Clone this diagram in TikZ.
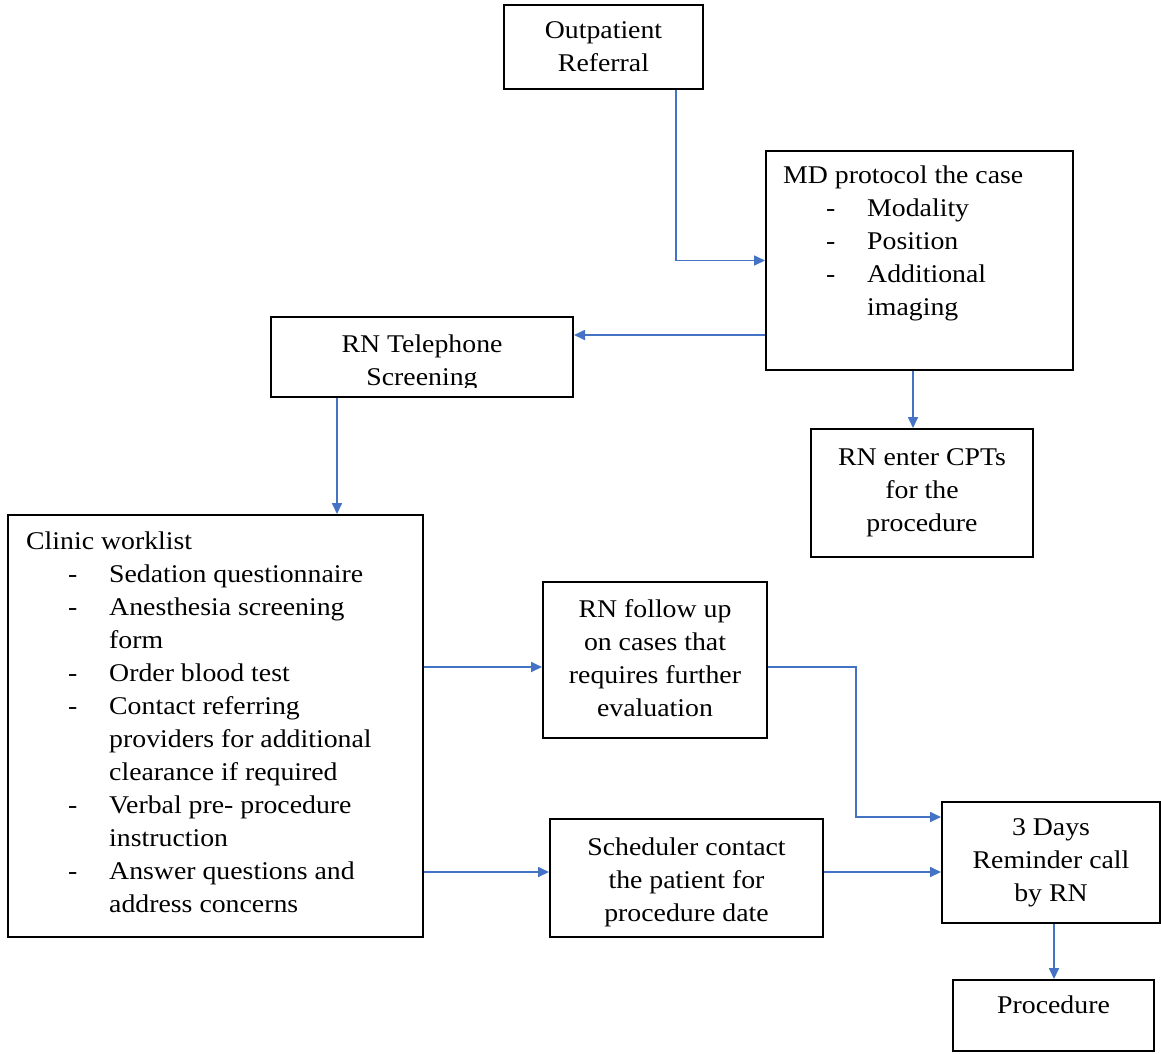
\documentclass[tikz,border=0pt]{standalone}
\usepackage{fontspec}
\setmainfont{Liberation Serif}[FakeStretch=1.09]
\usetikzlibrary{arrows.meta}
\definecolor{arrblue}{HTML}{4472C4}
\begin{document}
\begin{tikzpicture}[x=1pt,y=-1pt,
  box/.style={draw=black, line width=2pt, inner sep=0pt},
  txt/.style={inner sep=0pt, font=\fontsize{25.5}{33}\selectfont, anchor=north, align=center},
  ltxt/.style={inner sep=0pt, font=\fontsize{25.5}{33}\selectfont, anchor=north west, align=left},
  arr/.style={draw=arrblue, line width=1.7pt, -{Triangle[length=11pt,width=10pt]}}]
\useasboundingbox[fill=white] (0,0) rectangle (1161,1053);

% boxes
\node[box, minimum width=199, minimum height=84]  (out)    at (603.5,47) {};
\node[box, minimum width=307, minimum height=219] (md)     at (919.5,260.5) {};
\node[box, minimum width=302, minimum height=80]  (rntel)  at (422,357) {};
\node[box, minimum width=222, minimum height=128] (cpt)    at (922,493) {};
\node[box, minimum width=415, minimum height=422] (clinic) at (215.5,726) {};
\node[box, minimum width=224, minimum height=156] (follow) at (655,660) {};
\node[box, minimum width=273, minimum height=118] (sched)  at (686.5,878) {};
\node[box, minimum width=218, minimum height=121] (days)   at (1051,862.5) {};
\node[box, minimum width=201, minimum height=71]  (proc)   at (1053.5,1015.5) {};

% texts
\node[txt] (outtxt) at (603.5,14.9) {\strut Outpatient\\Referral};
\node[ltxt] (mdtxt) at (783,159.9) {\strut MD protocol the case\\
  \hspace*{43pt}\makebox[41pt][l]{-}Modality\\
  \hspace*{43pt}\makebox[41pt][l]{-}Position\\
  \hspace*{43pt}\makebox[41pt][l]{-}Additional\\
  \hspace*{84pt}imaging};
\begin{scope}
  \clip (271,317) rectangle (573,387);
  \node[txt] (rnteltxt) at (422,328.9) {\strut RN Telephone\\Screening};
\end{scope}
\node[txt] (cpttxt) at (922,441.9) {\strut RN enter CPTs\\for the\\procedure};
\node[ltxt] (clinictxt) at (26,525.9) {\strut Clinic worklist\\
  \hspace*{42pt}\makebox[41pt][l]{-}Sedation questionnaire\\
  \hspace*{42pt}\makebox[41pt][l]{-}Anesthesia screening\\
  \hspace*{83pt}form\\
  \hspace*{42pt}\makebox[41pt][l]{-}Order blood test\\
  \hspace*{42pt}\makebox[41pt][l]{-}Contact referring\\
  \hspace*{83pt}providers for additional\\
  \hspace*{83pt}clearance if required\\
  \hspace*{42pt}\makebox[41pt][l]{-}Verbal pre- procedure\\
  \hspace*{83pt}instruction\\
  \hspace*{42pt}\makebox[41pt][l]{-}Answer questions and\\
  \hspace*{83pt}address concerns};
\node[txt] (followtxt) at (655,593.9) {\strut RN follow up\\on cases that\\requires further\\evaluation};
\node[txt] (schedtxt) at (686.5,831.9) {\strut Scheduler contact\\the patient for\\procedure date};
\node[txt] (daystxt) at (1051,811.9) {\strut 3 Days\\Reminder call\\by RN};
\node[txt] (proctxt) at (1053.5,989.9) {\strut Procedure};

% connectors
\draw[arr] ([xshift=72.5pt]out.south) |- (md.west);
\coordinate (m2) at ([yshift=-74.5pt]md.west);
\draw[arr] (m2) -- (m2 -| rntel.east);
\coordinate (r1) at ([xshift=-85pt]rntel.south);
\draw[arr] (r1) -- (r1 |- clinic.north);
\coordinate (m3) at ([xshift=-6.5pt]md.south);
\draw[arr] (m3) -- (m3 |- cpt.north);
\coordinate (c1) at ([yshift=59pt]clinic.east);
\draw[arr] (c1) -- (c1 -| follow.west);
\coordinate (f1) at ([yshift=-7pt]follow.east);
\coordinate (d1) at ([yshift=45.5pt]days.west);
\draw[arr] (f1) -- ++(88,0) |- (d1);
\coordinate (c2) at ([yshift=-146pt]clinic.east);
\draw[arr] (c2) -- (c2 -| sched.west);
\coordinate (s1) at ([yshift=6pt]sched.east);
\draw[arr] (s1) -- (s1 -| days.west);
\coordinate (d2) at ([xshift=3pt]days.south);
\draw[arr] (d2) -- (d2 |- proc.north);
\end{tikzpicture}
\end{document}
